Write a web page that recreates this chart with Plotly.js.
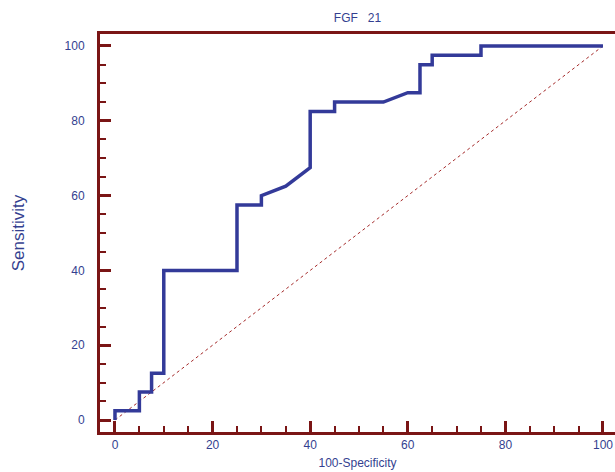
<!DOCTYPE html>
<html>
<head>
<meta charset="utf-8">
<script src="https://cdn.plot.ly/plotly-3.0.1.min.js"></script>
<style>html,body{margin:0;padding:0;background:#fff;}#chart{width:615px;height:472px;}</style>
</head>
<body>
<div id="chart"></div>
<script>
// ROC curve for FGF 21 (100-Specificity vs Sensitivity)
const specificity100 = [0, 0, 5, 5, 7.5, 7.5, 10, 10, 25, 25, 30, 30, 35, 40, 40, 45, 45, 55, 60, 62.5, 62.5, 65, 65, 75, 75, 100];
const sensitivity    = [0, 2.5, 2.5, 7.5, 7.5, 12.5, 12.5, 40, 40, 57.5, 57.5, 60, 62.5, 67.5, 82.5, 82.5, 85, 85, 87.5, 87.5, 95, 95, 97.5, 97.5, 100, 100];
const diagX = [0, 100];
const diagY = [0, 100];
const tickVals = [0, 20, 40, 60, 80, 100];
const tickText = ["0", "20", "40", "60", "80", "100"];

const axisColor = "#7a1515";
const textColor = "#343f90";
const font = "Liberation Sans, Arial, sans-serif";

const traces = [
  {x: diagX, y: diagY, mode: "lines", line: {color: "#a52a2a", width: 1, dash: "dot"}, hoverinfo: "skip"},
  {x: specificity100, y: sensitivity, mode: "lines", line: {color: "#333a99", width: 3.5}}
];

const axisCommon = {
  showgrid: false, zeroline: false, showline: true, linecolor: axisColor, linewidth: 3,
  ticks: "inside", tickcolor: axisColor, tickwidth: 3, ticklen: 11,
  tickvals: tickVals, ticktext: tickText,
  tickfont: {family: font, size: 12, color: textColor},
  minor: {dtick: 5, ticks: "inside", ticklen: 6, tickwidth: 2, tickcolor: axisColor, showgrid: false}
};

const layout = {
  width: 615, height: 472,
  margin: {l: 100, r: 0, t: 34, b: 40},
  paper_bgcolor: "#fff", plot_bgcolor: "#fff",
  showlegend: false,
  title: {text: "FGF\u00a0\u00a0\u00a021", font: {family: font, size: 12, color: textColor}, x: 0.5, xref: "paper", y: 0.962, yanchor: "middle"},
  xaxis: Object.assign({}, axisCommon, {
    range: [-3.07, 102.46], mirror: true, ticklabelstandoff: 0,
    title: {text: "100-Specificity", font: {family: font, size: 12, color: textColor}, standoff: 8}
  }),
  yaxis: Object.assign({}, axisCommon, {
    range: [-3.2, 103.2], ticklabelstandoff: 10,
    title: {text: "Sensitivity", font: {family: font, size: 17, color: textColor}, standoff: 36}
  })
};

Plotly.newPlot("chart", traces, layout, {displayModeBar: false, staticPlot: true});
</script>
</body>
</html>
